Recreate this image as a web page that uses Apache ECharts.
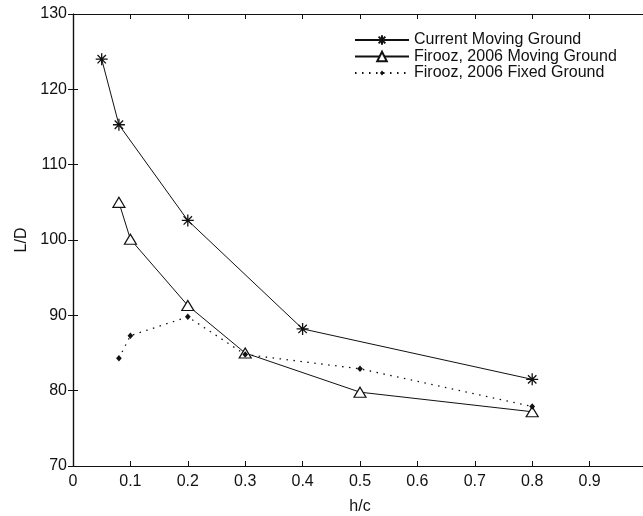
<!DOCTYPE html>
<html>
<head>
<meta charset="utf-8">
<script src="https://cdn.jsdelivr.net/npm/echarts@6/dist/echarts.min.js"></script>
<style>
  html, body { margin: 0; padding: 0; background: #fff; }
  #chart { width: 643px; height: 516px; }
</style>
</head>
<body>
<div id="chart"></div>
<script>
// Lift-to-drag ratio versus ground clearance
const currentX = [0.05, 0.08, 0.2, 0.4, 0.8];
const currentY = [124, 115.3, 102.6, 88.2, 81.5];

const firoozMovingX = [0.08, 0.1, 0.2, 0.3, 0.5, 0.8];
const firoozMovingY = [105, 100.1, 91.3, 85.0, 79.8, 77.2];

const firoozFixedX = [0.08, 0.1, 0.2, 0.3, 0.5, 0.8];
const firoozFixedY = [84.3, 87.3, 89.8, 84.8, 82.9, 77.9];

const seriesNames = ['Current Moving Ground', 'Firooz, 2006 Moving Ground', 'Firooz, 2006 Fixed Ground'];
const xTitle = 'h/c';
const yTitle = 'L/D';

const pair = (xs, ys) => xs.map((x, i) => [x, ys[i]]);

const FONT = "'Liberation Sans', Arial, sans-serif";
const INK = '#111';
// asterisk marker: plus and cross strokes
const asterisk = 'path://M0,5L10,5M5,0L5,10M1.5,1.5L8.5,8.5M8.5,1.5L1.5,8.5';
// small dot marker; the bare move-to points pad its box so it stays small
const dot = 'path://M0,0M10,10M5,2.5L7.2,5L5,7.5L2.8,5Z';

const chart = echarts.init(document.getElementById('chart'), null, { renderer: 'canvas' });

const tickStyle = { show: true, inside: true, length: 5, lineStyle: { color: INK, width: 1 } };
const lineAxis = { show: true, lineStyle: { color: INK, width: 1.2 } };

chart.setOption({
  animation: false,
  backgroundColor: '#fff',
  textStyle: { fontFamily: FONT },
  // the plot box runs slightly past the right edge of the canvas
  grid: { left: 73, top: 14, width: 574, height: 452, containLabel: false, outerBoundsMode: 'none' },
  legend: {
    orient: 'vertical',
    left: 354,
    top: 32,
    padding: 0,
    itemGap: 0.5,
    itemWidth: 54,
    itemHeight: 12,
    textStyle: { fontFamily: FONT, fontSize: 16, color: '#111', lineHeight: 16 },
    data: seriesNames
  },
  xAxis: [
    {
      type: 'value', position: 'bottom', min: 0, max: 1, interval: 0.1,
      name: xTitle, nameLocation: 'middle', nameGap: 33,
      nameTextStyle: { fontFamily: FONT, fontSize: 16, color: '#111' },
      axisLine: lineAxis, axisTick: tickStyle,
      axisLabel: { margin: 8, fontFamily: FONT, fontSize: 16, color: '#111' },
      splitLine: { show: false }
    },
    {
      type: 'value', position: 'top', min: 0, max: 1, interval: 0.1,
      axisLine: lineAxis, axisTick: tickStyle,
      axisLabel: { show: false }, splitLine: { show: false }
    }
  ],
  yAxis: [
    {
      type: 'value', position: 'left', min: 70, max: 130, interval: 10,
      name: yTitle, nameLocation: 'middle', nameGap: 39, nameRotate: 90,
      nameTextStyle: { fontFamily: FONT, fontSize: 16, color: '#111' },
      axisLine: lineAxis, axisTick: tickStyle,
      axisLabel: { margin: 6, fontFamily: FONT, fontSize: 16, color: '#111' },
      splitLine: { show: false }
    },
    {
      type: 'value', position: 'right', min: 70, max: 130, interval: 10,
      axisLine: lineAxis, axisTick: tickStyle,
      axisLabel: { show: false }, splitLine: { show: false }
    }
  ],
  series: [
    {
      name: seriesNames[0], type: 'line', data: pair(currentX, currentY),
      symbol: asterisk, symbolSize: 12, showAllSymbol: true,
      lineStyle: { color: INK, width: 1 },
      itemStyle: { color: INK, borderColor: INK, borderWidth: 1.3 },
      z: 3
    },
    {
      name: seriesNames[1], type: 'line', data: pair(firoozMovingX, firoozMovingY),
      symbol: 'triangle', symbolSize: [12, 10], showAllSymbol: true,
      lineStyle: { color: INK, width: 1 },
      itemStyle: { color: '#fff', borderColor: INK, borderWidth: 1.2 },
      z: 2
    },
    {
      name: seriesNames[2], type: 'line', data: pair(firoozFixedX, firoozFixedY),
      symbol: dot, symbolSize: 13, showAllSymbol: true,
      lineStyle: { color: INK, width: 1.3, type: [1.5, 5.5] },
      itemStyle: { color: INK, borderColor: INK, borderWidth: 0 },
      z: 4
    }
  ]
});
</script>
</body>
</html>
